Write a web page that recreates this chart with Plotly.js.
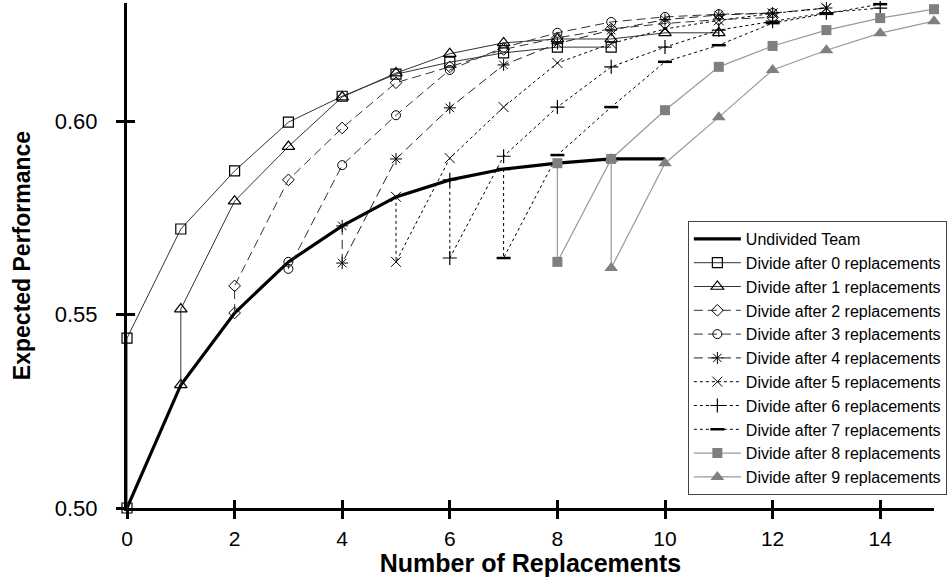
<!DOCTYPE html>
<html>
<head>
<meta charset="utf-8">
<script src="https://cdn.plot.ly/plotly-3.0.1.min.js"></script>
<style>html,body{margin:0;padding:0;background:#fff;}#chart{width:950px;height:577px;}</style>
</head>
<body>
<div id="chart"></div>
<script>
// ---- data ----
const seriesNames = [
  'Undivided Team',
  'Divide after 0 replacements','Divide after 1 replacements','Divide after 2 replacements',
  'Divide after 3 replacements','Divide after 4 replacements','Divide after 5 replacements',
  'Divide after 6 replacements','Divide after 7 replacements','Divide after 8 replacements',
  'Divide after 9 replacements'
];
const undivX = [0,1,2,3,4,5,6,7,8,9,10];
const undivY = [0.500,0.5318,0.5504,0.5636,0.5729,0.5804,0.5848,0.5876,0.5891,0.5902,0.5902];

const div0X = [0,0,1,2,3,4,5,6,7,8,9];
const div0Y = [0.500,0.5439,0.5721,0.5871,0.5997,0.6064,0.6121,0.6152,0.6176,0.6191,0.6191];

const div1X = [1,1,2,3,4,5,6,7,8,9,10,11];
const div1Y = [0.5318,0.5514,0.5793,0.5934,0.6062,0.6124,0.6174,0.6202,0.6212,0.6212,0.6228,0.6228];

const div2X = [2,2,3,4,5,6,7,8,9,10,11,12];
const div2Y = [0.5504,0.5574,0.5848,0.5982,0.6099,0.6140,0.6185,0.6215,0.6238,0.6252,0.6262,0.6268];

const div3X = [3,3,4,5,6,7,8,9,10,11,12];
const div3Y = [0.5636,0.5618,0.5886,0.6015,0.6132,0.6190,0.6228,0.6256,0.6269,0.6276,0.6279];

const div4X = [4,4,5,6,7,8,9,10,11,12,13];
const div4Y = [0.5729,0.5633,0.5902,0.6034,0.6145,0.6200,0.6235,0.6262,0.6274,0.6279,0.6292];

const div5X = [5,5,6,7,8,9,10,11,12,13];
const div5Y = [0.5804,0.5636,0.5904,0.6036,0.6150,0.6200,0.6238,0.6260,0.6278,0.6292];

const div6X = [6,6,7,8,9,10,11,12,13,14];
const div6Y = [0.5848,0.5646,0.5909,0.6036,0.6140,0.6191,0.6235,0.6258,0.6280,0.6292];

const div7X = [7,7,8,9,10,11,12,13,14];
const div7Y = [0.5876,0.5646,0.5912,0.6036,0.6153,0.6196,0.6253,0.6277,0.6302];

const div8X = [8,8,9,10,11,12,13,14,15];
const div8Y = [0.5891,0.5636,0.5902,0.6028,0.6140,0.6194,0.6235,0.6266,0.6289];

const div9X = [9,9,10,11,12,13,14,15];
const div9Y = [0.5902,0.5620,0.5891,0.6010,0.6132,0.6183,0.6227,0.6258];

const xTickVals = [0,2,4,6,8,10,12,14];
const yTickVals = [0.50,0.55,0.60];

// ---- styles ----
const FONT = 'Arial, "Liberation Sans", sans-serif';
const longDash = '9px,5px';
const shortDash = '3px,3px';
function tr(name, x, y, line, marker) {
  const t = {type:'scatter', mode: marker ? 'lines+markers' : 'lines', name:name, x:x, y:y,
          line:line, cliponaxis:false};
  if (marker) t.marker = marker;
  return t;
}
const traces = [
  tr(seriesNames[0], undivX, undivY, {color:'#000', width:3.2}),
  tr(seriesNames[1], div0X, div0Y, {color:'#333', width:1}, {symbol:'square-open', size:10, color:'#000', line:{width:1.2}}),
  tr(seriesNames[2], div1X, div1Y, {color:'#333', width:1}, {symbol:'triangle-up-open', size:11, color:'#000', line:{width:1.2}}),
  tr(seriesNames[3], div2X, div2Y, {color:'#333', width:1, dash:longDash}, {symbol:'diamond-open', size:9, color:'#000', line:{width:1}}),
  tr(seriesNames[4], div3X, div3Y, {color:'#333', width:1, dash:longDash}, {symbol:'circle-open', size:9, color:'#000', line:{width:1}}),
  tr(seriesNames[5], div4X, div4Y, {color:'#222', width:1, dash:longDash}, {symbol:'asterisk-open', size:10, color:'#000', line:{width:1}}),
  tr(seriesNames[6], div5X, div5Y, {color:'#000', width:1, dash:shortDash}, {symbol:'x-thin-open', size:10, color:'#000', line:{width:1}}),
  tr(seriesNames[7], div6X, div6Y, {color:'#000', width:1, dash:shortDash}, {symbol:'cross-thin-open', size:10, color:'#000', line:{width:1.2}}),
  tr(seriesNames[8], div7X, div7Y, {color:'#000', width:1, dash:shortDash}, {symbol:'line-ew-open', size:10, color:'#000', line:{width:2.5}}),
  tr(seriesNames[9], div8X, div8Y, {color:'#999', width:1.2}, {symbol:'square', size:10, color:'#7f7f7f', line:{width:0}}),
  tr(seriesNames[10], div9X, div9Y, {color:'#999', width:1.2}, {symbol:'triangle-up', size:12, color:'#7f7f7f', line:{width:0}}),
  // empty trace that carries the inner half of the crossing tick marks
  {type:'scatter', x:[], y:[], xaxis:'x2', yaxis:'y2', showlegend:false, hoverinfo:'skip'}
];

const layout = {
  width:950, height:577,
  margin:{l:127, r:13, t:3, b:69},
  paper_bgcolor:'#fff', plot_bgcolor:'#fff',
  font:{family:FONT, color:'#000'},
  showlegend:true,
  xaxis:{
    range:[0,15], showgrid:false, zeroline:false,
    showline:true, linecolor:'#000', linewidth:3,
    tickvals:xTickVals, ticks:'outside', ticklen:8, tickwidth:3, tickcolor:'#000',
    tickfont:{size:21, family:FONT}, ticklabelstandoff:2,
    title:{text:'Number of Replacements', font:{size:25, family:FONT, weight:'bold'}, standoff:5}
  },
  yaxis:{
    range:[0.5,0.6305], showgrid:false, zeroline:false,
    showline:true, linecolor:'#000', linewidth:3,
    tickvals:yTickVals, tickformat:'.2f', ticks:'outside', ticklen:8, tickwidth:3, tickcolor:'#000',
    tickfont:{size:22, family:FONT}, ticklabelstandoff:14,
    title:{text:'Expected Performance', font:{size:23, family:FONT, weight:'bold'}, standoff:18}
  },
  xaxis2:{overlaying:'x', matches:'x', anchor:'y', side:'bottom', showgrid:false, zeroline:false, showline:false,
    tickvals:xTickVals, ticks:'inside', ticklen:8, tickwidth:3, tickcolor:'#000', showticklabels:false},
  yaxis2:{overlaying:'y', matches:'y', anchor:'x', side:'left', showgrid:false, zeroline:false, showline:false,
    tickvals:yTickVals, ticks:'inside', ticklen:8, tickwidth:3, tickcolor:'#000', showticklabels:false},
  legend:{
    x:0.695, y:0.5683, xanchor:'left', yanchor:'top',
    bgcolor:'#fff', bordercolor:'#444', borderwidth:1,
    font:{size:16, family:FONT}, itemwidth:47, tracegroupgap:0,
    traceorder:'normal'
  }
};

Plotly.newPlot('chart', traces, layout, {staticPlot:true, displayModeBar:false});
</script>
</body>
</html>
